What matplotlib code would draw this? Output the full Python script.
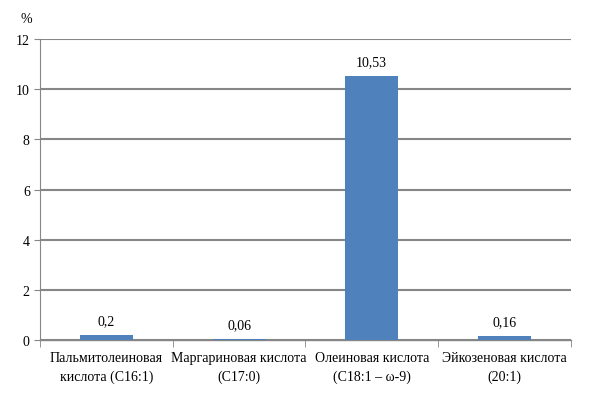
import matplotlib.pyplot as plt
import numpy as np

plt.rcParams['font.family'] = ['Liberation Serif', 'DejaVu Serif']

categories = ['Пальмитолеиновая\nкислота (С16:1)', 'Маргариновая кислота\n(С17:0)',
              'Олеиновая кислота\n(С18:1 – ω-9)', 'Эйкозеновая кислота\n(20:1)']
values = [0.2, 0.06, 10.53, 0.16]
value_labels = ['0,2', '0,06', '10,53', '0,16']
yticks = [0, 2, 4, 6, 8, 10, 12]

fig = plt.figure(figsize=(6.09, 4.10), dpi=100)
ax = fig.add_axes([0.066, 0.168, 0.871, 0.734])

x = np.arange(len(categories))
ax.bar(x, values, width=0.4, color='#4f81bd', zorder=3)

for xi, v, lab in zip(x, values, value_labels):
    ax.text(xi, v + 0.3, lab, ha='center', va='bottom', fontsize=10)

ax.set_xlim(-0.5, len(categories) - 0.5)
ax.set_ylim(0, 12)
ax.set_yticks(yticks)
ax.set_yticklabels([str(t) for t in yticks], fontsize=10)
ax.yaxis.grid(True, color='#868686', linewidth=1.5, zorder=0)
ax.set_axisbelow(True)

ax.set_xticks(x)
ax.set_xticklabels(categories, fontsize=10, linespacing=1.5)
ax.tick_params(axis='x', length=0, pad=8)
ax.set_xticks(np.arange(-0.5, len(categories)), minor=True)
ax.tick_params(axis='x', which='minor', length=5, color='#868686')
ax.tick_params(axis='y', length=4, color='#868686')

for s in ['top', 'right']:
    ax.spines[s].set_visible(False)
ax.spines['left'].set_color('#868686')
ax.spines['bottom'].set_color('#868686')
ax.spines['bottom'].set_linewidth(1.0)

fig.text(0.044, 0.952, '%', fontsize=10, ha='center', va='center')

fig.savefig('out.png', dpi=100)
